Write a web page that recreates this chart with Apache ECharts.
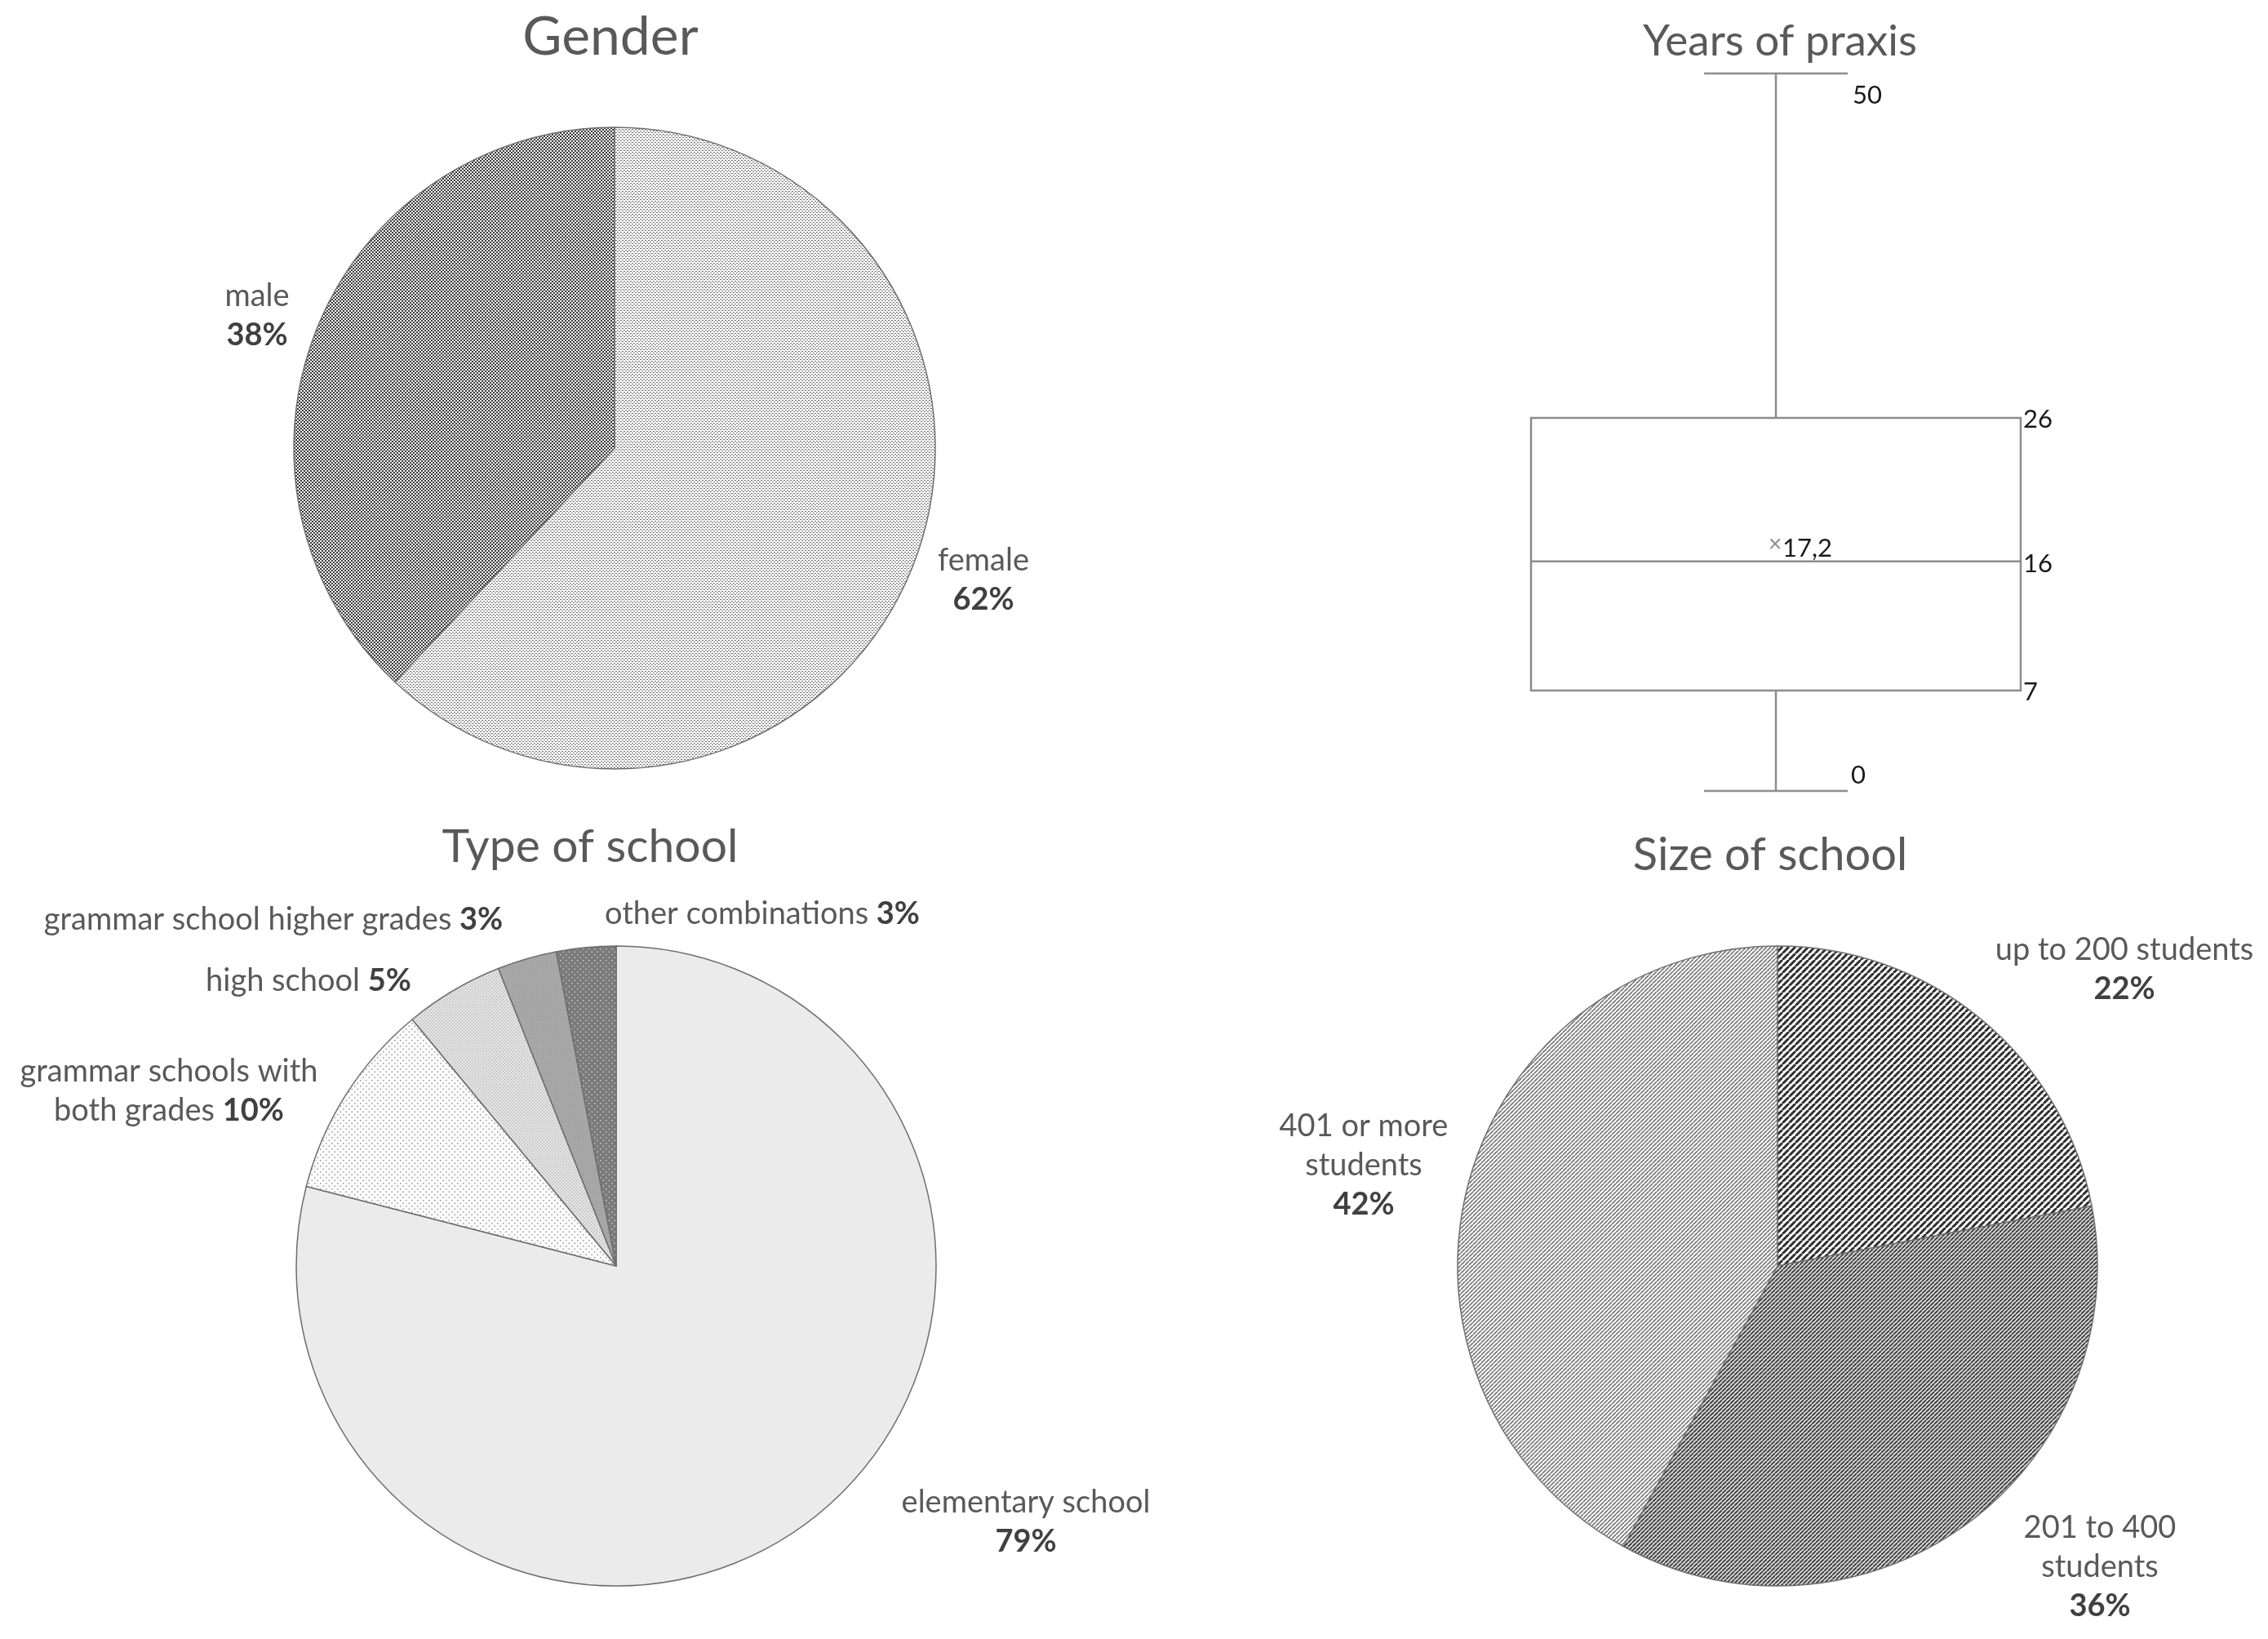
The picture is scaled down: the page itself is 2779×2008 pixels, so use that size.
<!DOCTYPE html>
<html><head><meta charset="utf-8">
<script src="https://cdn.jsdelivr.net/npm/echarts@6/dist/echarts.min.js"></script>
<style>html,body{margin:0;padding:0;background:#fff}#c{width:2779px;height:2008px}</style>
</head><body><div id="c"></div>
<script>
// ---------- DATA ----------
const genderCategories = ['female', 'male'];
const genderValues = [62, 38];
const genderLabelText = ['female\n', 'male\n'];

const schoolTypeCategories = ['elementary school', 'grammar schools with both grades', 'high school', 'grammar school higher grades', 'other combinations'];
const schoolTypeValues = [79, 10, 5, 3, 3];
const schoolTypeLabelText = ['elementary school\n', 'grammar schools with\nboth grades ', 'high school ', 'grammar school higher grades ', 'other combinations '];

const schoolSizeCategories = ['up to 200 students', '201 to 400 students', '401 or more students'];
const schoolSizeValues = [22, 36, 42];
const schoolSizeLabelText = ['up to 200 students\n', '201 to 400\nstudents\n', '401 or more\nstudents\n'];

const praxisCategory = ['Years of praxis'];
const praxisStats = [0, 7, 16, 26, 50]; // min, Q1, median, Q3, max
const praxisMean = 17.2;
const praxisMeanLabel = '17,2';

// ---------- STYLE / LAYOUT ----------
const FONT = 'Lato, "Open Sans", sans-serif';
const LABEL_COLOR = '#595959';
const PCT_COLOR = '#404040';
const LABEL_SIZE = 38;

function dotTile(size, dw, dh, fg, bg) {
  const c = document.createElement('canvas');
  c.width = size; c.height = size;
  const g = c.getContext('2d');
  g.fillStyle = bg; g.fillRect(0, 0, size, size);
  g.fillStyle = fg;
  const h = size / 2;
  g.fillRect(0, 0, dw, dh);
  g.fillRect(h, h, dw, dh);
  return {image: c, repeat: 'repeat'};
}
function hatchTile(size, lw, fg, bg) {
  const c = document.createElement('canvas');
  c.width = size; c.height = size;
  const g = c.getContext('2d');
  g.fillStyle = bg; g.fillRect(0, 0, size, size);
  g.strokeStyle = fg; g.lineWidth = lw;
  g.beginPath();
  [-size, 0, size].forEach(function (k) { g.moveTo(k, size); g.lineTo(k + size, 0); });
  g.stroke();
  return {image: c, repeat: 'repeat'};
}

const genderStyles = [
  {color: dotTile(4, 2, 1, '#6e6e6e', '#ffffff')},
  {color: dotTile(4, 2, 2, '#3c3c3c', '#f8f8f8')}
];
const schoolTypeStyles = [
  {color: '#ebebeb'},
  {color: dotTile(7, 1.5, 1.5, '#9a9a9a', '#fbfbfb')},
  {color: dotTile(4, 1, 1, '#ababab', '#e0e0e0')},
  {color: dotTile(3, 1, 1, '#8e8e8e', '#adadad')},
  {color: dotTile(7, 1.5, 1.5, '#c6c6c6', '#7b7b7b')}
];
const schoolSizeStyles = [
  {color: hatchTile(8, 3, '#2e2e2e', '#ffffff')},
  {color: hatchTile(5, 2, '#454545', '#e4e4e4')},
  {color: hatchTile(5, 1.7, '#7a7a7a', '#ffffff')}
];

const genderLabelPos = [[1205, 711], [315, 387]];
const schoolTypeLabelPos = [[1257, 1865], [207, 1337], [378, 1202], [335, 1127], [934, 1120]];
const schoolSizeLabelPos = [[2603, 1188], [2573, 1920], [1671, 1428]];

function makeFormatter(texts, values) {
  return function (p) {
    const parts = texts[p.dataIndex].split('\n');
    let out = '';
    for (let i = 0; i < parts.length; i++) {
      if (i > 0) out += '\n';
      if (parts[i].length) out += '{n|' + parts[i] + '}';
      if (i === parts.length - 1) out += '{p|' + values[p.dataIndex] + '%}';
    }
    return out;
  };
}

const rich = {
  n: {fontFamily: FONT, fontSize: LABEL_SIZE, color: LABEL_COLOR, lineHeight: 48},
  p: {fontFamily: FONT, fontSize: LABEL_SIZE, color: PCT_COLOR, fontWeight: 'bold', lineHeight: 48}
};

function pieSeries(cats, vals, styles, texts, pos, center, radius) {
  return {
    type: 'pie',
    center: center,
    radius: radius,
    startAngle: 90,
    clockwise: true,
    silent: true,
    animation: false,
    avoidLabelOverlap: false,
    itemStyle: {borderColor: '#6e6e6e', borderWidth: 1.5},
    label: {show: true, position: 'inside', rotate: 0, overflow: 'none', formatter: makeFormatter(texts, vals), rich: rich, align: 'center'},
    labelLine: {show: false},
    labelLayout: function (p) {
      const xy = pos[p.dataIndex];
      return {x: xy[0], y: xy[1], align: 'center', verticalAlign: 'middle', moveOverlap: false, hideOverlap: false};
    },
    data: cats.map(function (c, i) {
      return {name: c, value: vals[i], itemStyle: styles[i]};
    })
  };
}

function titleStyle(size) { return {fontFamily: FONT, fontSize: size, color: '#595959', fontWeight: 'normal'}; }

const option = {
  backgroundColor: '#ffffff',
  animation: false,
  title: [
    {text: 'Gender', left: 743, top: 8, textAlign: 'center', textStyle: titleStyle(66)},
    {text: 'Years of praxis', left: 2176, top: 19, textAlign: 'center', textStyle: titleStyle(53)},
    {text: 'Type of school', left: 718, top: 1004, textAlign: 'center', textStyle: titleStyle(57)},
    {text: 'Size of school', left: 2164, top: 1015, textAlign: 'center', textStyle: titleStyle(56)}
  ],
  grid: {left: 1776, width: 800, top: 90, height: 879, containLabel: false},
  xAxis: {type: 'category', data: praxisCategory, show: false},
  yAxis: {type: 'value', min: 0, max: 50, show: false},
  series: [
    pieSeries(genderCategories, genderValues, genderStyles, genderLabelText, genderLabelPos, [753, 549], 393),
    pieSeries(schoolTypeCategories, schoolTypeValues, schoolTypeStyles, schoolTypeLabelText, schoolTypeLabelPos, [755, 1551], 392),
    pieSeries(schoolSizeCategories, schoolSizeValues, schoolSizeStyles, schoolSizeLabelText, schoolSizeLabelPos, [2178, 1551], 392),
    {
      type: 'custom',
      silent: true,
      animation: false,
      data: [[0].concat(praxisStats).concat([praxisMean])],
      encode: {x: 0, y: [1, 2, 3, 4, 5]},
      renderItem: function (params, api) {
        const band = api.size([1, 0])[0];
        const xc = api.coord([api.value(0), 0])[0];
        const yMin = api.coord([0, api.value(1)])[1];
        const yQ1 = api.coord([0, api.value(2)])[1];
        const yMed = api.coord([0, api.value(3)])[1];
        const yQ3 = api.coord([0, api.value(4)])[1];
        const yMax = api.coord([0, api.value(5)])[1];
        const yMean = api.coord([0, api.value(6)])[1];
        const hw = band * 0.375;
        const cw = band * 0.11;
        const ls = {stroke: '#8c8c8c', lineWidth: 2.5, fill: null};
        const txt = {fontFamily: FONT, fontSize: 31, fill: '#1a1a1a'};
        function line(x1, y1, x2, y2) { return {type: 'line', shape: {x1: x1, y1: y1, x2: x2, y2: y2}, style: ls}; }
        function text(s, x, y, align, extra) {
          return {type: 'text', style: Object.assign({text: s, x: x, y: y, align: align, verticalAlign: 'middle'}, txt, extra || {})};
        }
        return {
          type: 'group',
          children: [
            {type: 'rect', shape: {x: xc - hw, y: yQ3, width: 2 * hw, height: yQ1 - yQ3}, style: {stroke: '#8c8c8c', lineWidth: 2.5, fill: '#ffffff'}},
            line(xc - hw, yMed, xc + hw, yMed),
            line(xc, yQ3, xc, yMax),
            line(xc, yQ1, xc, yMin),
            line(xc - cw, yMax, xc + cw, yMax),
            line(xc - cw, yMin, xc + cw, yMin),
            text(String(praxisStats[4]), xc + cw + 6, yMax + 27, 'left'),
            text(String(praxisStats[3]), xc + hw + 3, yQ3 + 2, 'left'),
            text(String(praxisStats[2]), xc + hw + 3, yMed + 3, 'left'),
            text(String(praxisStats[1]), xc + hw + 3, yQ1 + 2, 'left'),
            text(String(praxisStats[0]), xc + cw + 4, yMin - 19, 'left'),
            text('×', xc - 1, yMean, 'center', {fontSize: 28, fill: '#8a8a8a'}),
            text(praxisMeanLabel, xc + 8, yMean + 5, 'left')
          ]
        };
      }
    }
  ]
};

const chart = echarts.init(document.getElementById('c'), null, {renderer: 'canvas'});
chart.setOption(option);
</script>
</body></html>
